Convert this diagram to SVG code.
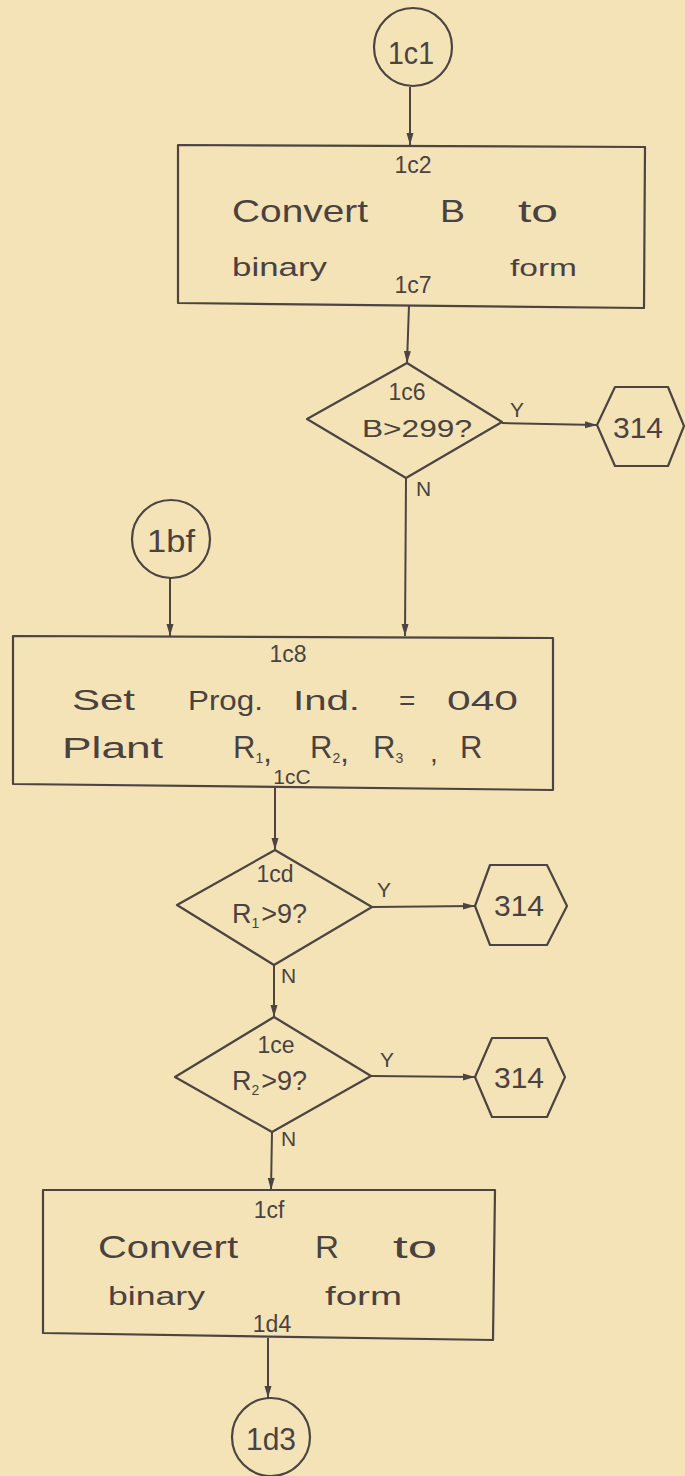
<svg xmlns="http://www.w3.org/2000/svg" width="685" height="1476" viewBox="0 0 685 1476">
<defs>
<marker id="arr" markerWidth="12" markerHeight="8" refX="12" refY="4" orient="auto" markerUnits="userSpaceOnUse"><path d="M0,0.5 L12,4 L0,7.5 z" fill="#4d4442"/></marker>
<style>
.s{fill:none;stroke:#4d4442;stroke-width:2.2;stroke-linejoin:round}
.e{fill:none;stroke:#4d4442;stroke-width:2;marker-end:url(#arr)}
.t{font-family:"Liberation Sans",Arial,sans-serif;fill:#4a4240}
.m{text-anchor:middle}
.lbl{font-size:23px}
.big{font-size:32px}
.yn{font-family:"Liberation Sans",Arial,sans-serif;fill:#4a4240;font-size:21px}
</style>
</defs>
<rect width="685" height="1476" fill="#f5e3b8"/>

<g id="connectors">
<line class="e" x1="410" y1="87" x2="410" y2="145"/>
<line class="e" x1="409" y1="305" x2="407" y2="363"/>
<line class="e" x1="502" y1="423" x2="597" y2="425"/>
<line class="e" x1="406" y1="478" x2="405" y2="636"/>
<line class="e" x1="170" y1="578" x2="170" y2="636"/>
<line class="e" x1="275" y1="787" x2="275" y2="850"/>
<line class="e" x1="372" y1="907" x2="475" y2="906"/>
<line class="e" x1="274" y1="965" x2="274" y2="1017"/>
<line class="e" x1="371" y1="1076" x2="475" y2="1077"/>
<line class="e" x1="272" y1="1132" x2="271" y2="1190"/>
<line class="e" x1="268" y1="1338" x2="268" y2="1398"/>
<text class="yn" x="510" y="417">Y</text>
<text class="yn" x="416" y="496">N</text>
<text class="yn" x="377" y="897">Y</text>
<text class="yn" x="281" y="983">N</text>
<text class="yn" x="380" y="1067">Y</text>
<text class="yn" x="281" y="1146">N</text>
</g>

<g id="n1c1">
<circle class="s" cx="413" cy="47" r="39"/>
<text class="t m" x="411" y="64" font-size="32" textLength="46" lengthAdjust="spacingAndGlyphs">1c1</text>
</g>

<g id="n1c2">
<polygon class="s" points="178,145 645,147 644,308 178,303"/>
<text class="t m lbl" x="413" y="173">1c2</text>
<text class="t big" x="232" y="222" textLength="136" lengthAdjust="spacingAndGlyphs">Convert</text>
<text class="t big" x="440" y="222" textLength="25" lengthAdjust="spacingAndGlyphs">B</text>
<text class="t big" x="518" y="222" textLength="40" lengthAdjust="spacingAndGlyphs">to</text>
<text class="t" x="232" y="276" font-size="26" textLength="95" lengthAdjust="spacingAndGlyphs">binary</text>
<text class="t" x="510" y="276" font-size="24" textLength="67" lengthAdjust="spacingAndGlyphs">form</text>
<text class="t m lbl" x="413" y="293">1c7</text>
</g>

<g id="n1c6">
<polygon class="s" points="407,363 502,422 406,478 307,419"/>
<text class="t m lbl" x="407" y="400">1c6</text>
<text class="t" x="362" y="437" font-size="23" textLength="110" lengthAdjust="spacingAndGlyphs">B&gt;299?</text>
</g>

<g id="h314a">
<polygon class="s" points="597,425 615,387 668,387 684,426 668,466 615,466"/>
<text class="t m" x="638" y="438" font-size="30">314</text>
</g>

<g id="n1bf">
<circle class="s" cx="171" cy="539" r="39"/>
<text class="t m" x="171" y="552" font-size="32" textLength="48" lengthAdjust="spacingAndGlyphs">1bf</text>
</g>

<g id="n1c8">
<polygon class="s" points="13,636 553,638 553,790 13,784"/>
<text class="t m lbl" x="288" y="662">1c8</text>
<text class="t" x="72" y="710" font-size="30" textLength="63" lengthAdjust="spacingAndGlyphs">Set</text>
<text class="t" x="188" y="710" font-size="28" textLength="75" lengthAdjust="spacingAndGlyphs">Prog.</text>
<text class="t" x="293" y="710" font-size="28" textLength="67" lengthAdjust="spacingAndGlyphs">Ind.</text>
<text class="t" x="399" y="710" font-size="28">=</text>
<text class="t" x="447" y="710" font-size="28" textLength="71" lengthAdjust="spacingAndGlyphs">040</text>
<text class="t" x="62" y="758" font-size="30" textLength="101" lengthAdjust="spacingAndGlyphs">Plant</text>
<text class="t" x="233" y="758" font-size="31">R<tspan font-size="14" dy="5">1</tspan><tspan dy="-1">,</tspan></text>
<text class="t" x="310" y="758" font-size="31">R<tspan font-size="14" dy="5">2</tspan><tspan dy="-1">,</tspan></text>
<text class="t" x="373" y="758" font-size="31">R<tspan font-size="14" dy="5">3</tspan></text>
<text class="t" x="430" y="762" font-size="28">,</text>
<text class="t" x="460" y="758" font-size="31">R</text>
<text class="t m" x="292" y="784" font-size="21">1cC</text>
</g>

<g id="n1cd">
<polygon class="s" points="275,850 372,907 274,965 177,905"/>
<text class="t m lbl" x="275" y="882">1cd</text>
<text class="t" x="232" y="923" font-size="27">R<tspan font-size="14" dy="5">1</tspan><tspan dy="-5" dx="2">&gt;9?</tspan></text>
</g>

<g id="h314b">
<polygon class="s" points="475,906 490,865 547,865 567,906 547,945 490,945"/>
<text class="t m" x="519" y="916" font-size="30">314</text>
</g>

<g id="n1ce">
<polygon class="s" points="274,1017 371,1076 272,1132 175,1077"/>
<text class="t m lbl" x="276" y="1053">1ce</text>
<text class="t" x="232" y="1090" font-size="27">R<tspan font-size="14" dy="5">2</tspan><tspan dy="-5" dx="2">&gt;9?</tspan></text>
</g>

<g id="h314c">
<polygon class="s" points="475,1077 492,1038 547,1038 565,1077 547,1117 492,1117"/>
<text class="t m" x="519" y="1088" font-size="30">314</text>
</g>

<g id="n1cf">
<polygon class="s" points="43,1190 495,1190 493,1340 43,1333"/>
<text class="t m lbl" x="269" y="1218">1cf</text>
<text class="t big" x="98" y="1258" textLength="140" lengthAdjust="spacingAndGlyphs">Convert</text>
<text class="t big" x="315" y="1258" textLength="24" lengthAdjust="spacingAndGlyphs">R</text>
<text class="t big" x="393" y="1258" textLength="44" lengthAdjust="spacingAndGlyphs">to</text>
<text class="t" x="108" y="1305" font-size="26" textLength="97" lengthAdjust="spacingAndGlyphs">binary</text>
<text class="t" x="325" y="1305" font-size="26" textLength="77" lengthAdjust="spacingAndGlyphs">form</text>
<text class="t m lbl" x="272" y="1332">1d4</text>
</g>

<g id="n1d3">
<circle class="s" cx="271" cy="1437" r="39"/>
<text class="t m" x="271" y="1450" font-size="32" textLength="50" lengthAdjust="spacingAndGlyphs">1d3</text>
</g>
</svg>
